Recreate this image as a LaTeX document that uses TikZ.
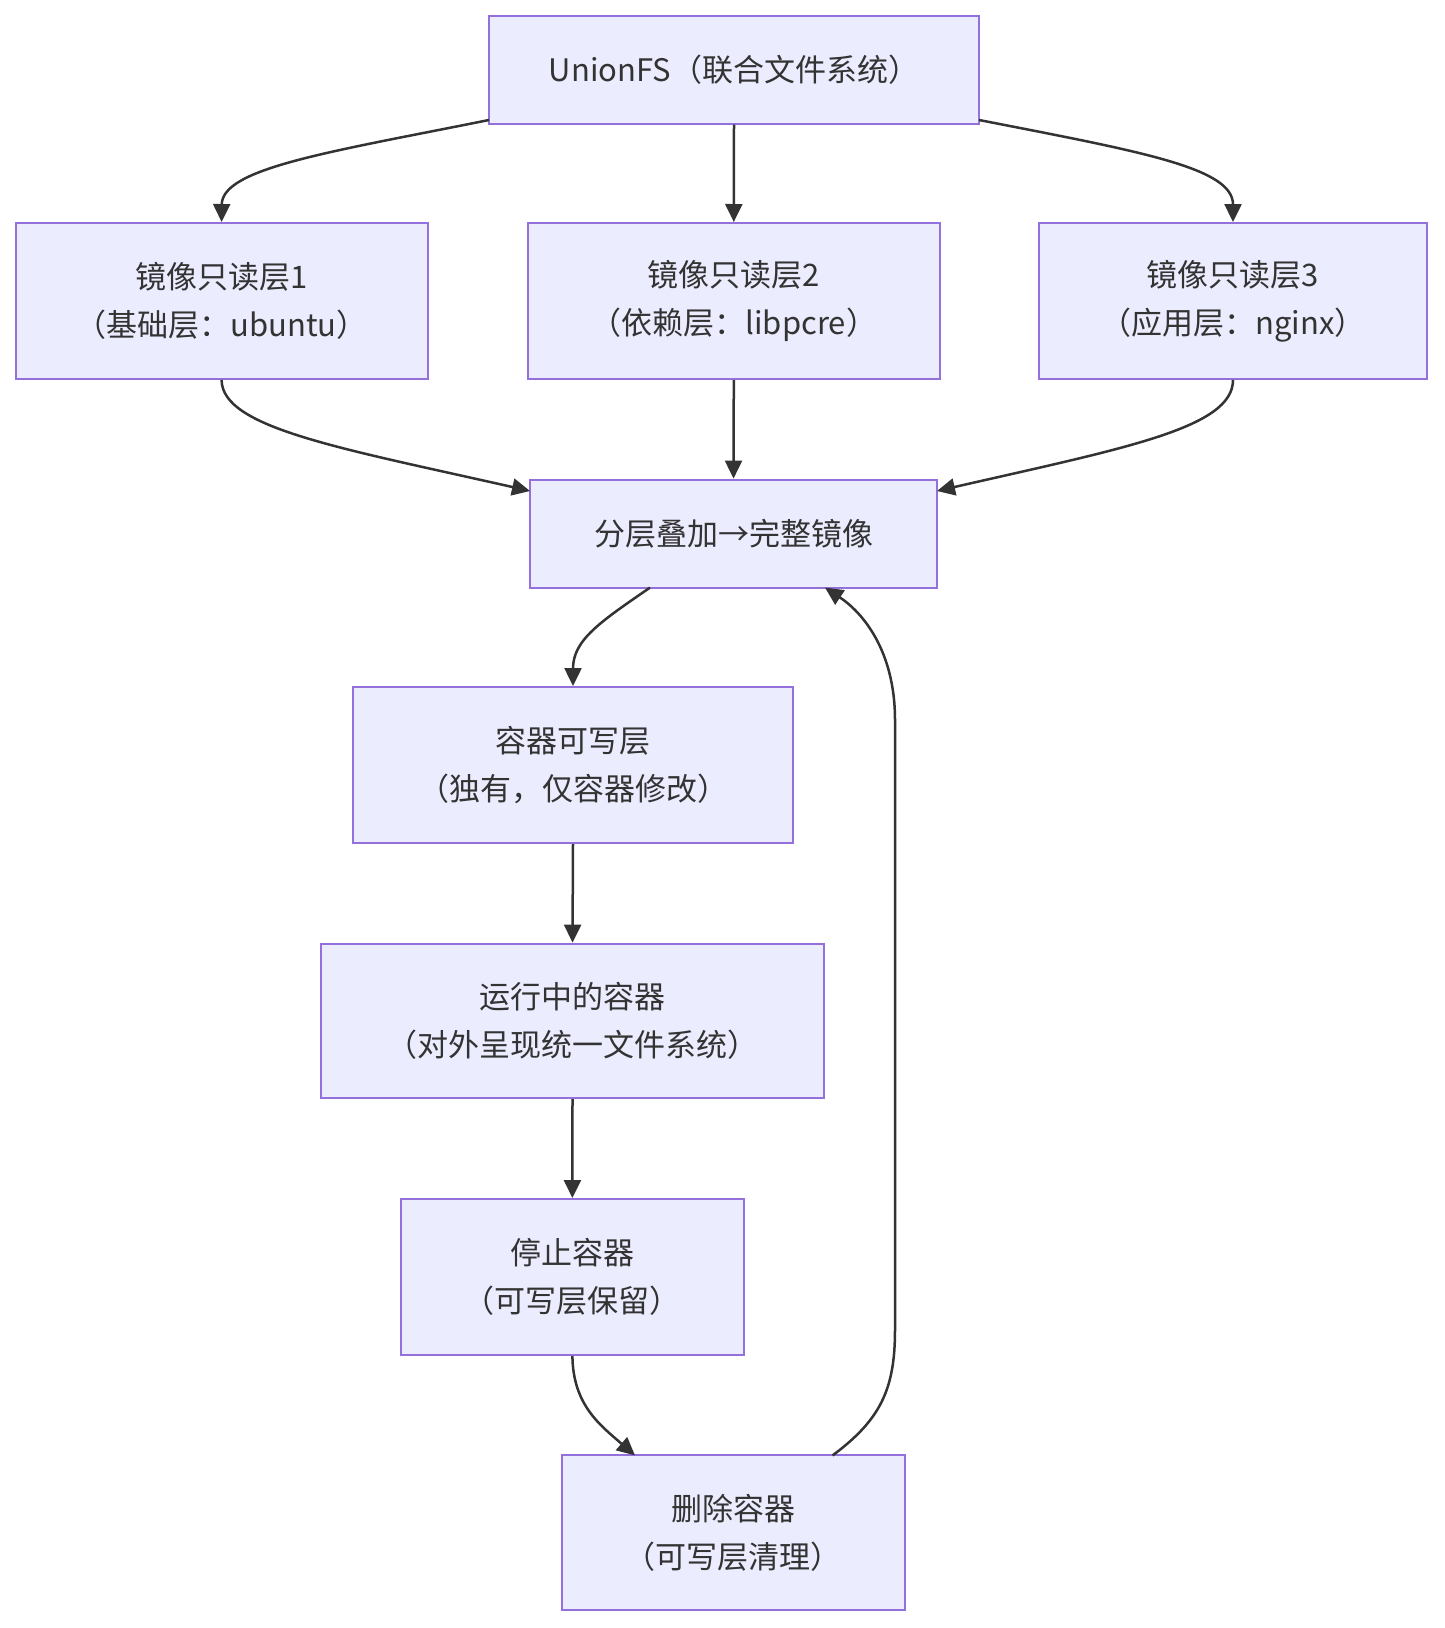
\documentclass[tikz,border=0pt]{standalone}
\usepackage{fontspec}
\setmainfont{Noto Sans CJK SC}
\usetikzlibrary{arrows.meta}
\definecolor{nfill}{HTML}{ECECFF}
\definecolor{nstroke}{HTML}{9370DB}
\definecolor{ntext}{HTML}{333333}
\begin{document}
\begin{tikzpicture}[x=1pt,y=-1pt,
  box/.style={draw=nstroke,fill=nfill,line width=2pt,inner sep=0pt,align=center,
    text=ntext,font=\fontsize{31}{48}\selectfont},
  edge/.style={draw=ntext,line width=2.5pt,-{Triangle[length=18pt,width=17pt]}}]
\useasboundingbox[fill=white] (0,0) rectangle (1444,1628);
\node[box,minimum width=490pt,minimum height=108pt] (U) at (734,69.5) {UnionFS（联合文件系统）};
\node[box,minimum width=412pt,minimum height=156pt] (L1) at (221.6,301) {镜像只读层1\\（基础层：ubuntu）};
\node[box,minimum width=411.5pt,minimum height=156pt] (L2) at (733.8,301) {镜像只读层2\\（依赖层：libpcre）};
\node[box,minimum width=388pt,minimum height=156pt] (L3) at (1233,301) {镜像只读层3\\（应用层：nginx）};
\node[box,minimum width=407pt,minimum height=108pt] (M) at (733.5,533.6) {分层叠加→完整镜像};
\node[box,minimum width=440pt,minimum height=156pt] (W) at (573,765) {容器可写层\\（独有，仅容器修改）};
\node[box,minimum width=503pt,minimum height=154.4pt] (R) at (572.5,1020.8) {运行中的容器\\（对外呈现统一文件系统）};
\node[box,minimum width=343.3pt,minimum height=156pt] (S) at (572.4,1277) {停止容器\\（可写层保留）};
\node[box,minimum width=343.4pt,minimum height=154.6pt] (D) at (733.3,1532.7) {删除容器\\（可写层清理）};
\coordinate (Us1) at (489,120);
\coordinate (Us3) at (979,120);
\coordinate (Md1) at (530,491);
\coordinate (Md3) at (937,491);
\coordinate (Mb) at (650,587.6);
\coordinate (Mr) at (825,587.6);
\coordinate (Dl) at (635,1455.4);
\coordinate (Dr) at (832.6,1455.4);
\draw[edge] (Us1) .. controls (330,152) and (222,168) .. (L1.north);
\draw[edge] (U.south) -- (L2.north);
\draw[edge] (Us3) .. controls (1143,152) and (1233,168) .. (L3.north);
\draw[edge] (L1.south) .. controls (222,428) and (340,448) .. (Md1);
\draw[edge] (L2.south) -- (M.north);
\draw[edge] (L3.south) .. controls (1233,428) and (1125,448) .. (Md3);
\draw[edge] (Mb) .. controls (600,622) and (573,640) .. (W.north);
\draw[edge] (W.south) -- (R.north);
\draw[edge] (R.south) -- (S.north);
\draw[edge] (S.south) .. controls (573,1405) and (600,1425) .. (Dl);
\draw[edge] (Dr) .. controls (880,1420) and (895,1390) .. (895,1330) -- (895,720) .. controls (895,650) and (862,612) .. (Mr);
\end{tikzpicture}
\end{document}
